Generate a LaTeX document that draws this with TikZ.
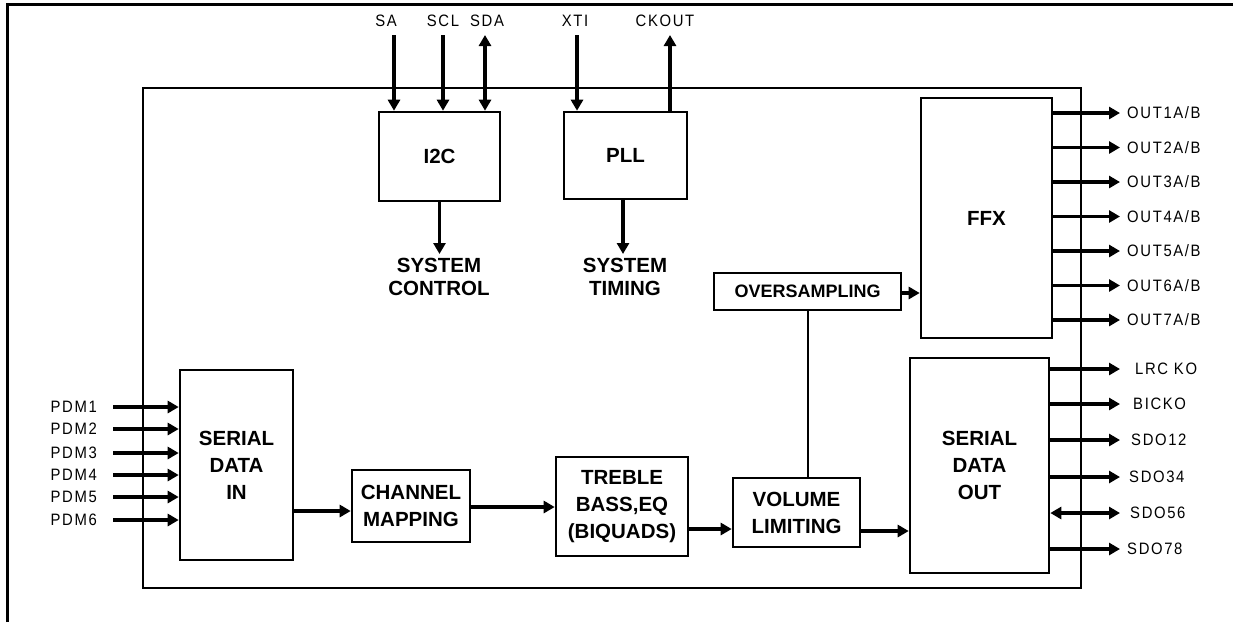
\documentclass[tikz,border=0pt]{standalone}
\usepackage{fontspec}
\setmainfont{Liberation Sans}
\newfontfamily\pinfont[LetterSpace=10,FakeStretch=0.9]{Liberation Sans}
\usetikzlibrary{arrows.meta}
\begin{document}
\begin{tikzpicture}[x=1pt,y=-1pt,
  blk/.style={draw,line width=2.6pt,font=\bfseries\fontsize{20.5}{27}\selectfont,align=center,inner sep=0pt},
  lbl/.style={font=\bfseries\fontsize{20.5}{23.5}\selectfont,align=center,inner sep=0pt},
  pin/.style={font=\pinfont\fontsize{16.5}{18}\selectfont,inner sep=0pt},
  sig/.style={line width=3.8pt,-{Triangle[length=11pt,width=12pt]}},
  bisig/.style={line width=3.8pt,{Triangle[length=11pt,width=12pt]}-{Triangle[length=11pt,width=12pt]}},
  wire/.style={line width=2.4pt}]
\useasboundingbox (0,0) rectangle (1233,622);
% outer frame (cropped)
\draw[line width=3pt] (7,622) -- (7,4) -- (1233,4);
% chip outline
\node[draw,line width=2.6pt,minimum width=938pt,minimum height=500pt,inner sep=0pt] (chip) at (612,338) {};
% blocks
\node[blk,minimum width=121pt,minimum height=89pt] (i2c) at (439.5,156.5) {I2C};
\node[blk,minimum width=123pt,minimum height=87pt] (pll) at (625.5,155.5) {PLL};
\node[blk,font=\bfseries\fontsize{18}{22}\selectfont,minimum width=187pt,minimum height=37pt] (ovs) at (807.5,291.5) {OVERSAMPLING};
\node[blk,minimum width=131pt,minimum height=240pt] (ffx) at (986.5,218) {FFX};
\node[blk,minimum width=139pt,minimum height=215pt] (sdo) at (979.5,465.5) {SERIAL\\DATA\\OUT};
\node[blk,minimum width=113pt,minimum height=190pt] (sdi) at (236.5,465) {SERIAL\\DATA\\IN};
\node[blk,minimum width=118pt,minimum height=72pt] (cm) at (411,506) {CHANNEL\\MAPPING};
\node[blk,minimum width=132pt,minimum height=99pt] (treb) at (622,506.5) {TREBLE\\BASS,EQ\\(BIQUADS)};
\node[blk,minimum width=127pt,minimum height=69pt] (vol) at (796.5,512.5) {VOLUME\\LIMITING};
% system labels
\node[lbl] (sysc) at (439,277) {SYSTEM\\CONTROL};
\node[lbl] (syst) at (625,277) {SYSTEM\\TIMING};
\draw[sig] (i2c.south) -- (i2c.south |- 0,254);
\draw[sig] (623,199) -- (623,254);
% top pins
\node[pin] (sa) at (386,21) {SA};
\node[pin] (scl) at (443,21) {SCL};
\node[pin] (sda) at (487,21) {SDA};
\node[pin] (xti) at (575,21) {XTI};
\node[pin] (ckout) at (665,21) {CKOUT};
\draw[sig] (394,35) -- (394,35 |- i2c.north);
\draw[sig] (443,35) -- (443,35 |- i2c.north);
\draw[bisig] (485,35) -- (485,35 |- i2c.north);
\draw[sig] (577,35) -- (577,35 |- pll.north);
\draw[sig] (670,35 |- pll.north) -- (670,35);
% data path
\draw[sig] (sdi.east |- 0,511) -- (cm.west |- 0,511);
\draw[sig] (cm.east |- 0,507) -- (treb.west |- 0,507);
\draw[sig] (treb.east |- 0,529) -- (vol.west |- 0,529);
\draw[sig] (vol.east |- 0,531) -- (sdo.west |- 0,531);
\draw[sig] (ovs.east |- 0,293) -- (ffx.west |- 0,293);
\draw[wire] (vol.north -| 808,0) -- (ovs.south -| 808,0);
% PDM inputs
\foreach \n/\y in {1/407,2/429,3/453,4/475,5/497,6/520}{
  \node[pin,anchor=east] (pdm\n) at (97,\y) {PDM\n};
  \draw[sig] (113,\y) -- (sdi.west |- 0,\y);
}
% FFX outputs
\foreach \n in {1,...,7}{
  \pgfmathsetmacro{\yy}{113+34.5*(\n-1)}
  \coordinate (o\n) at (1120,\yy);
  \draw[sig] (ffx.east |- o\n) -- (o\n);
  \node[pin,anchor=west] (ol\n) at (1127,\yy) {OUT\n{}A/B};
}
% serial outputs
\foreach \k/\y/\lx/\t in {1/369/1135/LRC KO,2/404/1133/BICKO,3/440/1131/SDO12,4/477/1129/SDO34,6/549/1127/SDO78}{
  \coordinate (s\k) at (1120,\y);
  \draw[sig] (sdo.east |- s\k) -- (s\k);
  \node[pin,anchor=west] (sl\k) at (\lx,\y) {\t};
}
\coordinate (s5) at (1120,513);
\draw[bisig] (sdo.east |- s5) -- (s5);
\node[pin,anchor=west] (sl5) at (1130,513) {SDO56};
\end{tikzpicture}
\end{document}
